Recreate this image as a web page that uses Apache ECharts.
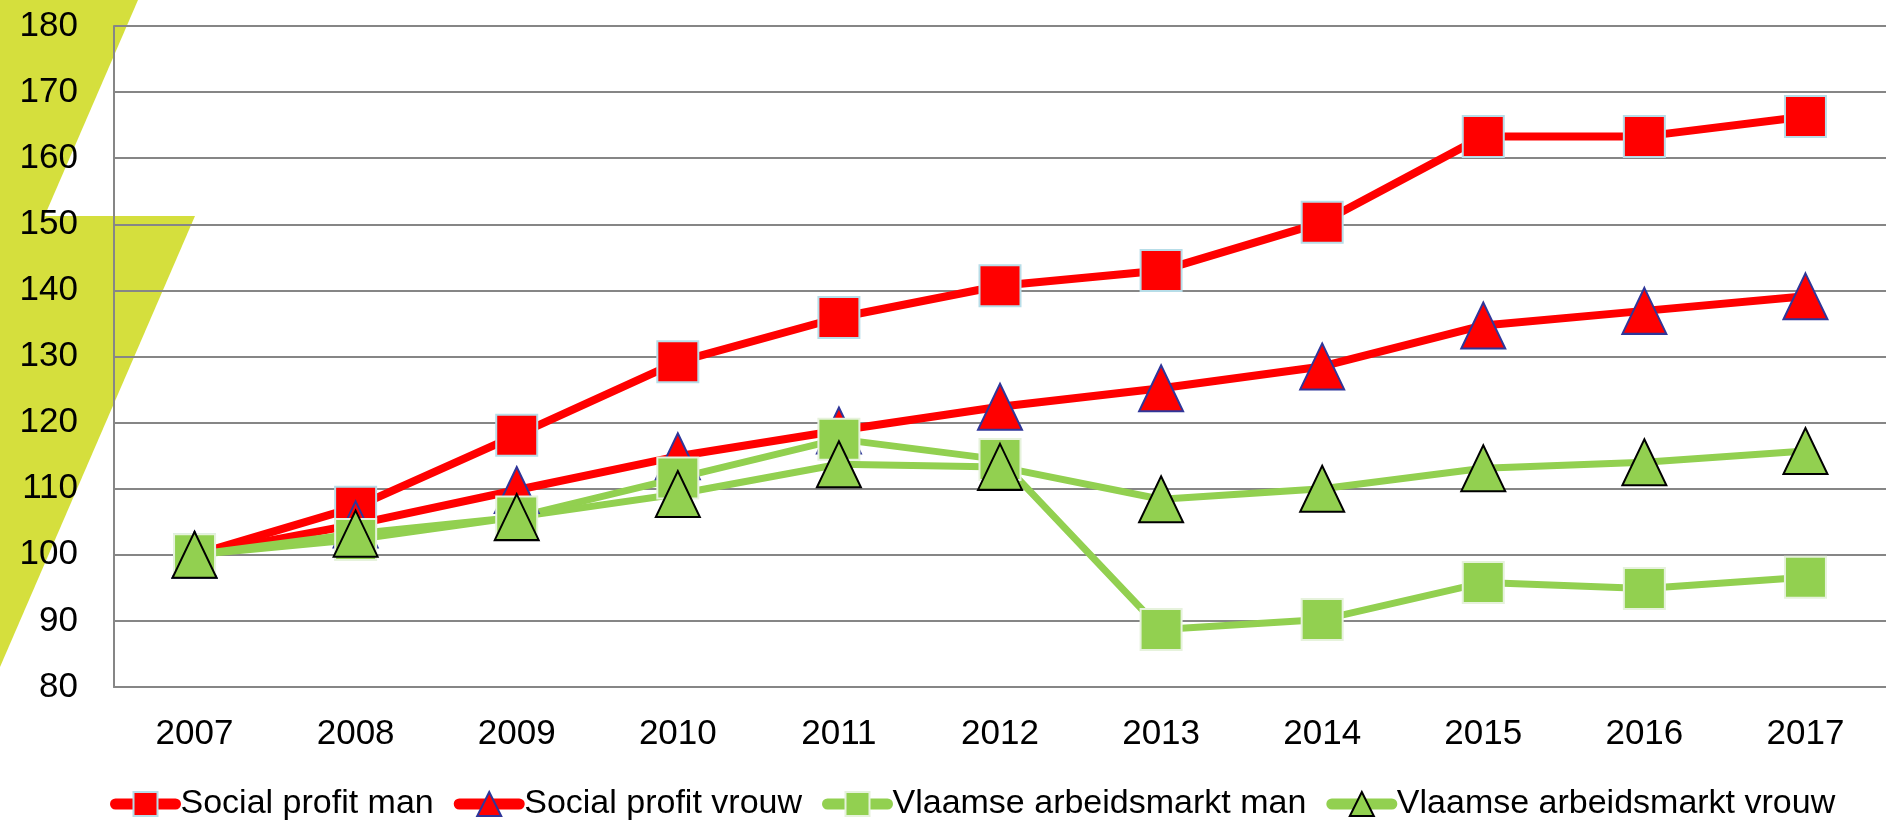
<!DOCTYPE html>
<html>
<head>
<meta charset="utf-8">
<script src="https://cdn.jsdelivr.net/npm/echarts@6/dist/echarts.min.js"></script>
<style>
    html, body { margin: 0; padding: 0; background: #fff; }
    #chart { width: 1886px; height: 820px; }
</style>
</head>
<body>
<div id="chart"></div>
<script>
// jaren
const years = ['2007', '2008', '2009', '2010', '2011', '2012', '2013', '2014', '2015', '2016', '2017'];
// index 2007 = 100
const socialProfitMan = [100, 107.2, 118.1, 129.2, 135.9, 140.7, 143.0, 150.3, 163.3, 163.3, 166.3];
const socialProfitVrouw = [100, 104.6, 109.8, 114.9, 118.8, 122.4, 125.2, 128.5, 134.7, 136.9, 139.1];
const vlaamseMan = [100, 102.3, 105.7, 111.6, 117.5, 114.4, 88.7, 90.2, 95.8, 94.9, 96.6];
const vlaamseVrouw = [100, 103.2, 105.7, 109.2, 113.7, 113.3, 108.4, 110.0, 113.1, 114.0, 115.7];
const yTicks = { min: 80, max: 180, interval: 10 };

const RED = '#ff0000';
const GREEN = '#92d050';
const LIME = '#d5df3d';
const FONT = 'Liberation Sans';

//serie opbouwen
function makeSeries(name, data, color, symbol, border, lineW) {
    return {
        name: name,
        type: 'line',
        data: data,
        symbol: symbol,
        symbolSize: symbol === 'rect' ? 41 : [44, 46],
        lineStyle: { color: color, width: lineW, cap: 'round' },
        itemStyle: { color: color, borderColor: border, borderWidth: 2 },
        emphasis: { disabled: true },
        animation: false
    };
}

const chart = echarts.init(document.getElementById('chart'));
chart.setOption({
    backgroundColor: '#fff',
    // gele driehoeken links
    graphic: [
        {
            type: 'polygon', z: -10, silent: true,
            shape: { points: [[0, 0], [138, 0], [0, 319]] },
            style: { fill: LIME }
        },
        {
            type: 'polygon', z: -10, silent: true,
            shape: { points: [[0, 216], [195, 216], [0, 667]] },
            style: { fill: LIME }
        }
    ],
    grid: { left: 114, right: -4, top: 26, bottom: 133 },
    legend: {
        left: 110,
        right: 0,
        top: 787,
        padding: 0,
        itemWidth: 60,
        itemHeight: 30,
        itemGap: 20,
        lineStyle: { width: 11, cap: 'round' },
        textStyle: { fontFamily: FONT, fontSize: 34, color: '#000' },
        data: ['Social profit man', 'Social profit vrouw', 'Vlaamse arbeidsmarkt man', 'Vlaamse arbeidsmarkt vrouw']
    },
    xAxis: {
        type: 'category',
        data: years,
        boundaryGap: true,
        axisLine: { lineStyle: { color: '#868686', width: 2 } },
        axisTick: { show: false },
        axisLabel: { fontFamily: FONT, fontSize: 35, color: '#000', margin: 30 }
    },
    yAxis: {
        type: 'value',
        min: yTicks.min,
        max: yTicks.max,
        interval: yTicks.interval,
        axisLine: { show: true, lineStyle: { color: '#868686', width: 2 } },
        axisTick: { show: false },
        splitLine: { lineStyle: { color: '#868686', width: 2 } },
        axisLabel: { fontFamily: FONT, fontSize: 35, color: '#000', margin: 36 }
    },
    series: [
        makeSeries('Social profit man', socialProfitMan, RED, 'rect', '#b7dde8', 8),
        makeSeries('Social profit vrouw', socialProfitVrouw, RED, 'triangle', '#2f3699', 8),
        makeSeries('Vlaamse arbeidsmarkt man', vlaamseMan, GREEN, 'rect', '#e6f2dc', 7),
        makeSeries('Vlaamse arbeidsmarkt vrouw', vlaamseVrouw, GREEN, 'triangle', '#000000', 7)
    ]
});
</script>
</body>
</html>
